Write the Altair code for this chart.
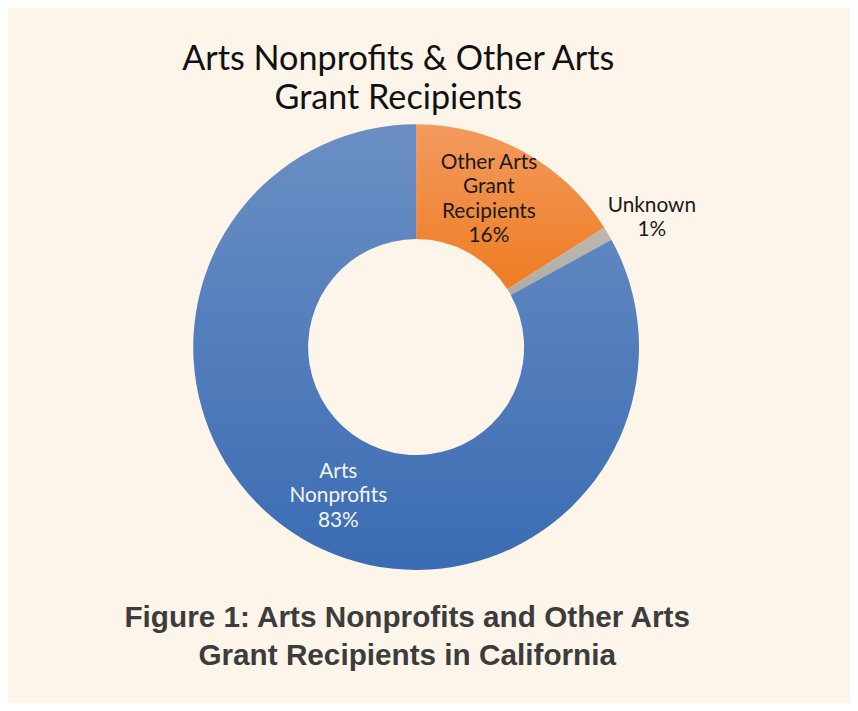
import altair as alt
import pandas as pd

categories = ["Other Arts Grant Recipients", "Unknown", "Arts Nonprofits"]
values = [16, 1, 83]
order = [1, 2, 3]
labels = ["Other Arts\nGrant\nRecipients\n16%", "Unknown\n1%", "Arts\nNonprofits\n83%"]

title_lines = ["Arts Nonprofits & Other Arts", "Grant Recipients"]
caption_lines = ["Figure 1: Arts Nonprofits and Other Arts", "Grant Recipients in California"]

gradients = {
    "Other Arts Grant Recipients": ("#f39a5e", "#ee7c22"),
    "Unknown": ("#bdb8b0", "#b0aba3"),
    "Arts Nonprofits": ("#6b8fc4", "#3a6cb3"),
}
label_style = {
    "Other Arts Grant Recipients": dict(radius=165, dx=-6, dy=-41, color="#1a1a1a"),
    "Unknown": dict(radius=266, dx=9, dy=-7, color="#1a1a1a"),
    "Arts Nonprofits": dict(radius=170, dx=8, dy=-20, color="#f4f4f4"),
}

df = pd.DataFrame({"category": categories, "value": values, "order": order, "label": labels})

W, H = 850, 695
CX, CY = 412, 339

base = alt.Chart(df).transform_window(
    end="sum(value)", sort=[alt.SortField("order")]
).transform_calculate(
    start="datum.end - datum.value",
    mid="datum.end - datum.value / 2",
    lines="split(datum.label, '\\n')",
)

theta_scale = alt.Scale(domain=[0, 100])
layers = []
for cat in categories:
    top, bottom = gradients[cat]
    grad = alt.LinearGradient(
        gradient="linear",
        stops=[alt.GradientStop(color=top, offset=0), alt.GradientStop(color=bottom, offset=1)],
        x1=0, x2=0, y1=0, y2=1,
    )
    layers.append(
        base.transform_filter(alt.datum.category == cat)
        .mark_arc(outerRadius=225, innerRadius=109, fill=grad, stroke=None)
        .encode(
            theta=alt.Theta("start:Q", scale=theta_scale, stack=None),
            theta2="end:Q",
            x=alt.value(CX),
            y=alt.value(CY),
        )
    )

for cat in categories:
    st = label_style[cat]
    layers.append(
        base.transform_filter(alt.datum.category == cat)
        .mark_text(
            radius=st["radius"], dx=st["dx"], dy=st["dy"], color=st["color"],
            font="Lato", fontSize=21, lineHeight=24.5, align="center", baseline="middle",
        )
        .encode(
            theta=alt.Theta("mid:Q", scale=theta_scale, stack=None),
            text="lines:N",
            x=alt.value(CX),
            y=alt.value(CY),
        )
    )

dummy = alt.Chart(pd.DataFrame({"t": [0]}))
title = dummy.mark_text(
    text=title_lines, font="Lato", fontSize=34.5, lineHeight=40, color="#111111",
    align="center", baseline="alphabetic",
).encode(x=alt.value(394), y=alt.value(59))

caption = dummy.mark_text(
    text=caption_lines, font="Liberation Sans", fontWeight="bold", fontSize=30,
    lineHeight=38, color="#3c3c3c", align="center", baseline="alphabetic",
).encode(x=alt.value(403), y=alt.value(622))

chart = alt.layer(*layers, title, caption).properties(
    width=W, height=H, background="#fdf5ea", padding=0
).configure_view(stroke=None)

chart.save("out.html", embed_options={"renderer": "svg", "actions": False})
